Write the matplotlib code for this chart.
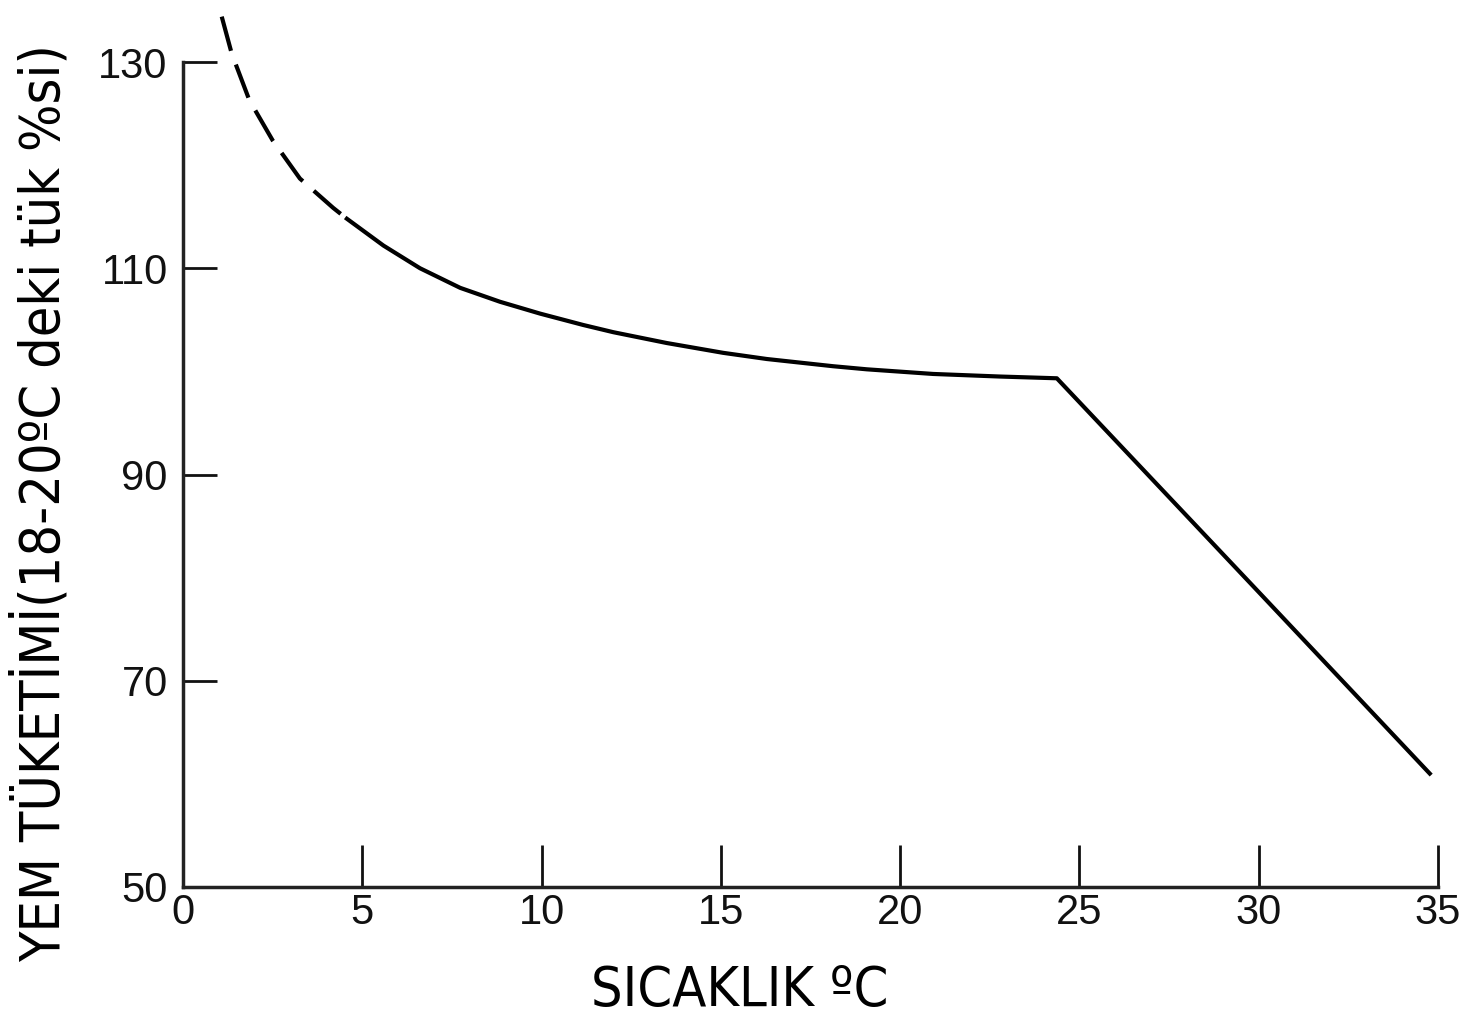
import matplotlib
matplotlib.use("Agg")
import matplotlib.pyplot as plt

# Data
dash_x = [1.08, 1.36, 1.85, 2.50, 3.26, 4.19, 4.57]
dash_y = [134.4, 130.8, 126.3, 122.4, 118.7, 115.85, 114.8]
solid_x = [4.57, 5.59, 6.61, 7.73, 8.84, 9.96, 11.16, 12.0, 13.49, 15.06, 16.28,
           18.13, 19.07, 20.92, 22.78, 24.37, 30.0, 34.77]
solid_y = [114.8, 112.2, 110.0, 108.1, 106.75, 105.6, 104.5, 103.8, 102.75, 101.8, 101.2,
           100.5, 100.2, 99.75, 99.5, 99.33, 78.6, 61.0]
xticks = [0, 5, 10, 15, 20, 25, 30, 35]
yticks = [50, 70, 90, 110, 130]
xlabel = "SICAKLIK ºC"
ylabel = "YEM TÜKETİMİ(18-20ºC deki tük %si)"

fig = plt.figure(figsize=(14.6, 10.18), dpi=100)
ax = fig.add_axes([183/1460, 1-887/1018, (1438-183)/1460, (887-62)/1018])
ax.set_xlim(0, 35)
ax.set_ylim(50, 130)

ax.plot(dash_x, dash_y, color="black", lw=3, linestyle=(0, (8.5, 3.5)), clip_on=False,
        dash_capstyle="butt", dash_joinstyle="round")
ax.plot(solid_x, solid_y, color="black", lw=3, clip_on=False, solid_joinstyle="round")

for s in ["top", "right"]:
    ax.spines[s].set_visible(False)
for s in ["left", "bottom"]:
    ax.spines[s].set_linewidth(2.5)
    ax.spines[s].set_color("#222222")

tick_font = ["Liberation Sans", "DejaVu Sans"]
ax.set_xticks(xticks)
ax.set_yticks(yticks)
ax.set_xticklabels([str(t) for t in xticks], family=tick_font, fontsize=30)
ax.set_yticklabels([str(t) for t in yticks], family=tick_font, fontsize=30)
ax.tick_params(axis="x", direction="in", length=30, width=2, pad=4, colors="#111111")
ax.tick_params(axis="y", direction="in", length=24.5, width=2, pad=11, colors="#111111")

lab_kw = dict(family="DejaVu Sans", fontstretch="condensed", fontsize=40, color="black")
fig.text(740/1460, 1-991/1018, xlabel, ha="center", va="center", **lab_kw)
fig.text(42/1460, 1-503/1018, ylabel, ha="center", va="center", rotation=90, **lab_kw)

fig.savefig("out.png", dpi=100, facecolor="white")
